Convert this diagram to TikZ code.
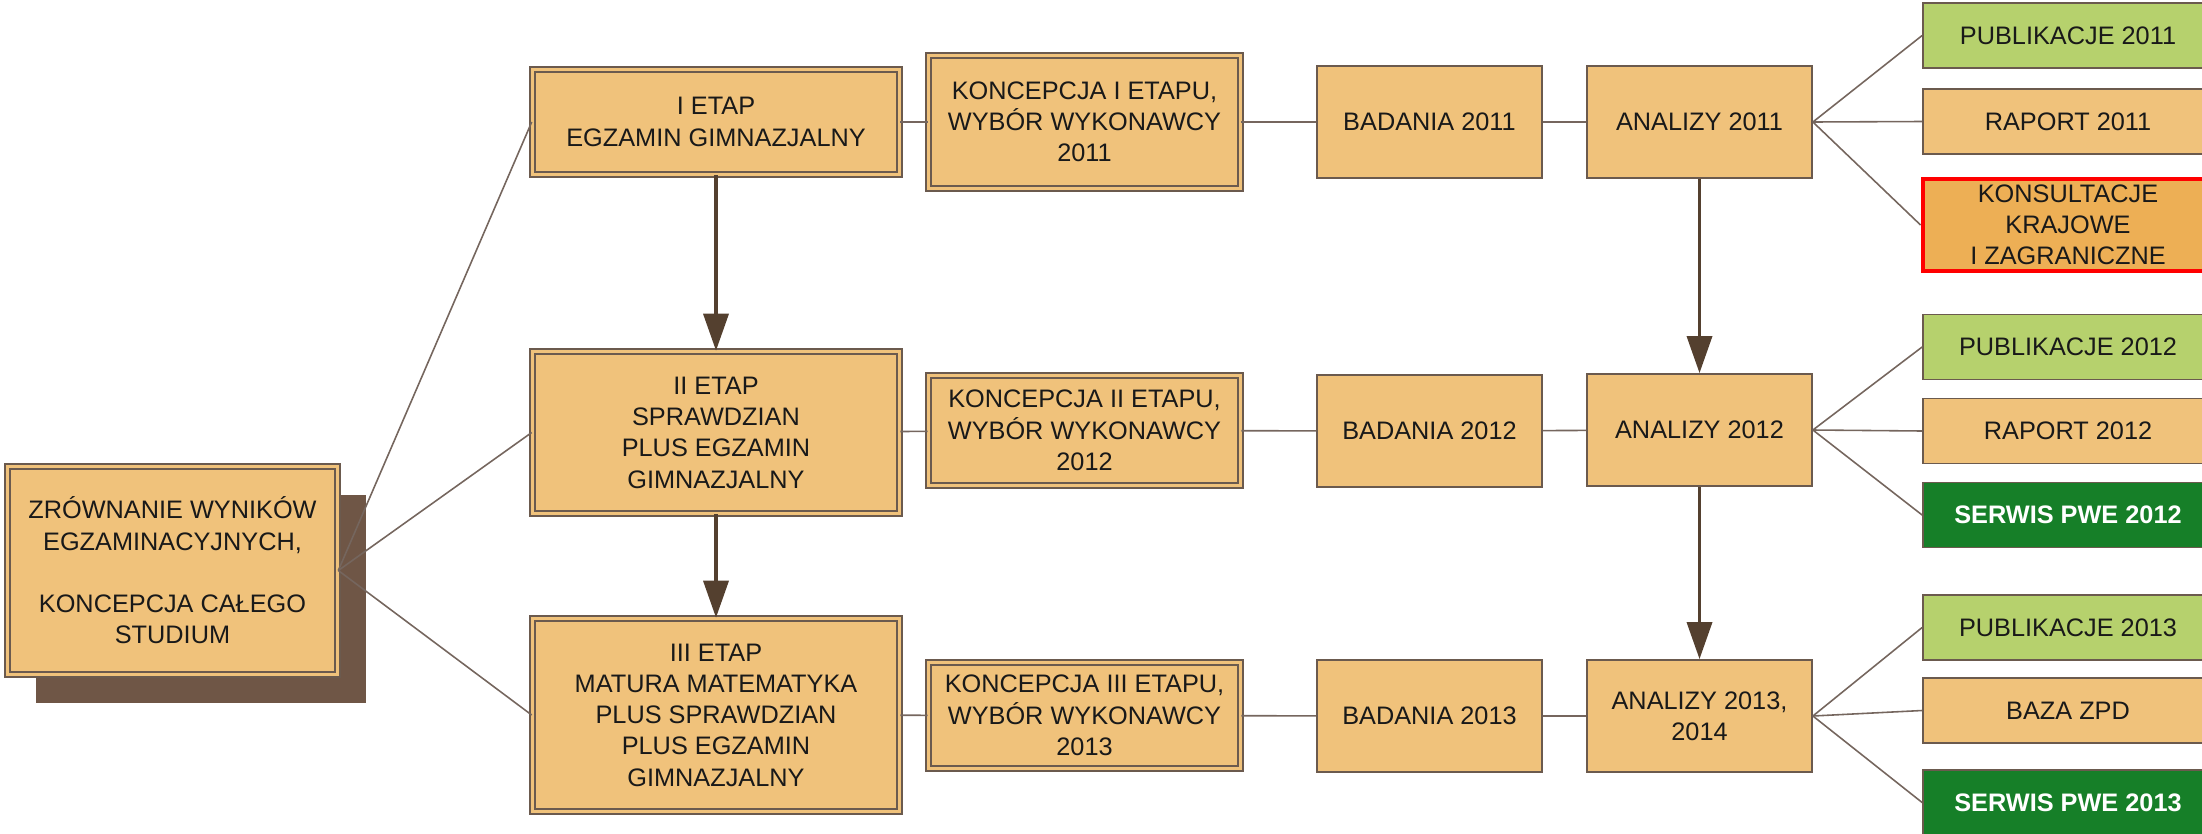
\documentclass[tikz,border=0pt]{standalone}
\usepackage{fontspec}
\setmainfont{Liberation Sans}
\usetikzlibrary{arrows.meta,shadows}

\definecolor{boxfill}{HTML}{F0C27B}
\definecolor{boxedge}{HTML}{6B5A4E}
\definecolor{linkcol}{HTML}{75665E}
\definecolor{arrowcol}{HTML}{54402F}
\definecolor{shadowcol}{HTML}{6F5646}
\definecolor{lightgreen}{HTML}{B6D16D}
\definecolor{darkgreen}{HTML}{167F28}
\definecolor{konsfill}{HTML}{EDAF55}

\begin{document}
\begin{tikzpicture}[
    every node/.style={font=\fontsize{7.2}{8.9}\selectfont, align=center, inner sep=0pt, text=black!90},
    doublebox/.style={fill=boxfill, draw=boxedge, line width=0.45pt, double=boxfill, double distance=1.1pt},
    simplebox/.style={fill=boxfill, draw=boxedge, line width=0.5pt},
    stage/.style={doublebox, minimum width=3.67cm},
    concept/.style={doublebox, minimum width=3.12cm},
    task/.style={simplebox, minimum width=2.25cm, minimum height=1.12cm},
    result/.style={simplebox, minimum width=2.9cm, minimum height=0.65cm},
    link/.style={draw=linkcol, line width=0.45pt},
    down/.style={draw=arrowcol, line width=1pt, -{Triangle[length=3.7mm,width=2.5mm]}}
  ]
    \useasboundingbox (0,0) rectangle (22.02,8.33);
    \clip (0,0) rectangle (22.02,8.33);

    % Whole study
    \node[doublebox, minimum width=3.3cm, minimum height=2.08cm,
      drop shadow={shadow xshift=0.28cm, shadow yshift=-0.28cm, fill=shadowcol, opacity=1}]
      (root) at (1.725,2.625) {ZRÓWNANIE WYNIKÓW\\EGZAMINACYJNYCH,\\[8.9pt]KONCEPCJA CAŁEGO\\STUDIUM};

    % Stage I
    \node[stage, minimum height=1.05cm] (etap1) at (7.16,7.11) {I ETAP\\EGZAMIN GIMNAZJALNY};
    \node[concept, minimum height=1.33cm] (konc1) at (10.845,7.11) {KONCEPCJA I ETAPU,\\WYBÓR WYKONAWCY\\2011};
    \node[task] (bad1) at (14.295,7.11) {BADANIA 2011};
    \node[task] (an1) at (16.995,7.11) {ANALIZY 2011};
    \node[result, fill=lightgreen] (pub1) at (20.68,7.975) {PUBLIKACJE 2011};
    \node[result] (rap1) at (20.68,7.115) {RAPORT 2011};
    \node[result, fill=konsfill, draw=red, line width=1.4pt, minimum height=0.92cm] (kons1) at (20.68,6.08) {KONSULTACJE\\KRAJOWE\\I ZAGRANICZNE};

    % Stage II
    \node[stage, minimum height=1.62cm] (etap2) at (7.16,4.005) {II ETAP\\SPRAWDZIAN\\PLUS EGZAMIN\\GIMNAZJALNY};
    \node[concept, minimum height=1.1cm] (konc2) at (10.845,4.025) {KONCEPCJA II ETAPU,\\WYBÓR WYKONAWCY\\2012};
    \node[task] (bad2) at (14.295,4.02) {BADANIA 2012};
    \node[task] (an2) at (16.995,4.03) {ANALIZY 2012};
    \node[result, fill=lightgreen] (pub2) at (20.68,4.86) {PUBLIKACJE 2012};
    \node[result] (rap2) at (20.68,4.02) {RAPORT 2012};
    \node[result, fill=darkgreen, text=white, font=\fontsize{7.2}{8.9}\selectfont\bfseries] (serw2) at (20.68,3.18) {SERWIS PWE 2012};

    % Stage III
    \node[stage, minimum height=1.93cm] (etap3) at (7.16,1.18) {III ETAP\\MATURA MATEMATYKA\\PLUS SPRAWDZIAN\\PLUS EGZAMIN\\GIMNAZJALNY};
    \node[concept, minimum height=1.06cm] (konc3) at (10.845,1.175) {KONCEPCJA III ETAPU,\\WYBÓR WYKONAWCY\\2013};
    \node[task] (bad3) at (14.295,1.17) {BADANIA 2013};
    \node[task] (an3) at (16.995,1.17) {ANALIZY 2013,\\2014};
    \node[result, fill=lightgreen] (pub3) at (20.68,2.055) {PUBLIKACJE 2013};
    \node[result] (baza3) at (20.68,1.225) {BAZA ZPD};
    \node[result, fill=darkgreen, text=white, font=\fontsize{7.2}{8.9}\selectfont\bfseries] (serw3) at (20.68,0.305) {SERWIS PWE 2013};

    % links
    \foreach \s in {etap1,etap2,etap3}
      \draw[link] (root.east) -- (\s.west);
    \foreach \n in {1,2,3} {
      \draw[link] (etap\n) -- (konc\n);
      \draw[link] (konc\n) -- (bad\n);
      \draw[link] (bad\n) -- (an\n);
    }
    \foreach \r in {pub1,rap1,kons1}
      \draw[link] (an1.east) -- (\r.west);
    \foreach \r in {pub2,rap2,serw2}
      \draw[link] (an2.east) -- (\r.west);
    \foreach \r in {pub3,baza3,serw3}
      \draw[link] (an3.east) -- (\r.west);

    % arrows
    \draw[down] (etap1) -- (etap2);
    \draw[down] (etap2) -- (etap3);
    \draw[down] (an1) -- (an2);
    \draw[down] (an2) -- (an3);
  \end{tikzpicture}
\end{document}
